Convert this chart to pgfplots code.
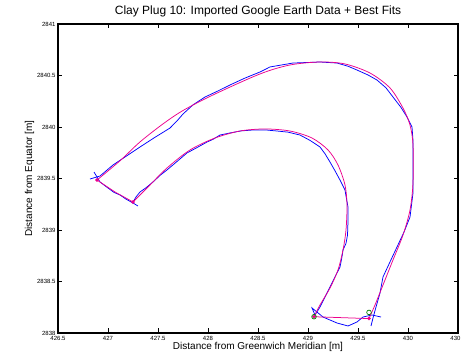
\documentclass[border=0pt]{standalone}
\usepackage{pgfplots}
\pgfplotsset{compat=1.18}
\usepackage{fontspec}
\setmainfont{Liberation Sans}
\begin{document}
\begin{tikzpicture}
\begin{axis}[
  name=ax,
  at={(0,0)}, anchor=south west,
  scale only axis,
  width=400pt, height=309pt,
  xmin=426.5, xmax=430.5, ymin=2838, ymax=2841,
  xtick={426.5,427,...,430.5},
  ytick={2838,2838.5,...,2841},
  /pgf/number format/assume math mode=true,
  /pgf/number format/1000 sep={},
  xticklabel style={font=\fontsize{6}{7}\selectfont, /pgf/number format/fixed, yshift=0.5pt},
  yticklabel style={font=\fontsize{6}{7}\selectfont, /pgf/number format/fixed, xshift=1pt},
  tick align=inside,
  tick style={black, line width=0.6pt},
  major tick length=4.5pt,
  axis line style={line width=1.3pt},
  title={Clay Plug 10: Imported Google Earth Data + Best Fits},
  title style={font=\fontsize{12}{14}\selectfont, yshift=-3pt},
  xlabel={Distance from Greenwich Meridian [m]},
  ylabel={Distance from Equator [m]},
  xlabel style={font=\fontsize{10}{12}\selectfont, yshift=5pt},
  ylabel style={font=\fontsize{10}{12}\selectfont, yshift=-4pt},
  clip=false,
]
% Blue data: outer boundary
\addplot[blue, line width=0.75pt, mark=none] coordinates {
(426.82,2839.495) (426.92,2839.524) (427.05,2839.631) (427.20,2839.728) (427.32,2839.806)
(427.47,2839.900) (427.62,2839.990) (427.70,2840.070) (427.75,2840.126) (427.85,2840.215) (427.97,2840.291) (428.10,2840.350) (428.22,2840.408)
(428.37,2840.475) (428.52,2840.534) (428.62,2840.583) (428.85,2840.621) (429.12,2840.631)
(429.29,2840.621) (429.40,2840.590) (429.49,2840.553) (429.60,2840.505) (429.69,2840.456) (429.78,2840.380) (429.85,2840.291)
(429.93,2840.190) (429.99,2840.097) (430.04,2840.0) (430.05,2839.870) (430.05,2839.777)
(430.05,2839.560) (430.05,2839.359) (430.02,2839.126) (429.96,2838.980) (429.89,2838.835) (429.82,2838.690) (429.75,2838.544)
(429.72,2838.388) (429.68,2838.252) (429.65,2838.146) (429.63,2838.068)
};
% Blue data: bottom and inner boundary
\addplot[blue, line width=0.75pt, mark=none] coordinates {
(429.73,2838.155) (429.64,2838.175) (429.55,2838.155) (429.49,2838.107)
(429.40,2838.068) (429.29,2838.097) (429.15,2838.155) (429.04,2838.243)
(429.07,2838.175) (429.12,2838.252) (429.17,2838.350) (429.22,2838.447) (429.27,2838.545) (429.32,2838.641)
(429.34,2838.740) (429.35,2838.806) (429.38,2838.870) (429.395,2838.950) (429.40,2839.080) (429.40,2839.223) (429.38,2839.330) (429.37,2839.388)
(429.32,2839.485) (429.27,2839.575) (429.22,2839.660) (429.17,2839.740) (429.12,2839.806) (429.02,2839.870) (428.92,2839.922)
(428.80,2839.950) (428.69,2839.961) (428.57,2839.972) (428.45,2839.971) (428.33,2839.962) (428.22,2839.942) (428.12,2839.922)
(428.05,2839.880) (427.99,2839.854) (427.89,2839.800) (427.79,2839.748) (427.69,2839.665) (427.59,2839.583) (427.52,2839.530) (427.45,2839.466)
(427.38,2839.410) (427.32,2839.369) (427.28,2839.320) (427.25,2839.272) (427.24,2839.262)
};
% Blue data: left connection
\addplot[blue, line width=0.75pt, mark=none] coordinates {
(427.30,2839.233) (427.25,2839.262) (427.18,2839.300) (427.12,2839.340) (427.06,2839.365) (427.00,2839.408)
(426.92,2839.466) (426.86,2839.563)
};
% Magenta fit: outer arc
\addplot[magenta, line width=0.75pt, mark=none, smooth, tension=0.5] coordinates {
(426.89,2839.485) (427.12,2839.672) (427.32,2839.855) (427.55,2840.030)
(427.75,2840.160) (428.05,2840.311) (428.52,2840.515) (428.82,2840.602)
(429.12,2840.631) (429.37,2840.612) (429.62,2840.524) (429.82,2840.379)
(429.95,2840.184) (430.02,2840.019) (430.05,2839.825) (430.05,2839.456)
(430.02,2839.194) (429.95,2838.951) (429.85,2838.709) (429.75,2838.466)
(429.67,2838.272) (429.61,2838.140)
};
% Magenta fit: bottom
\addplot[magenta, line width=0.75pt, mark=none] coordinates {
(429.61,2838.140) (429.06,2838.158)
};
% Magenta fit: inner arc
\addplot[magenta, line width=0.75pt, mark=none, smooth, tension=0.5] coordinates {
(429.06,2838.158)
(429.12,2838.272) (429.22,2838.437) (429.30,2838.612) (429.35,2838.806)
(429.38,2839.0) (429.39,2839.243) (429.37,2839.437) (429.30,2839.631)
(429.20,2839.777) (429.04,2839.893) (428.82,2839.961) (428.57,2839.981)
(428.32,2839.961) (428.07,2839.893) (427.82,2839.777) (427.59,2839.602)
(427.42,2839.437) (427.25,2839.272)
};
% Magenta fit: left end
\addplot[magenta, line width=0.75pt, mark=none] coordinates {
(427.25,2839.272) (427.07,2839.369) (426.89,2839.485)
};
% Magenta corner markers
\addplot[only marks, mark=*, mark size=1.6pt, magenta] coordinates {
(426.89,2839.485) (427.25,2839.272) (429.61,2838.140) (429.06,2838.158)
};
% Green circles
\addplot[only marks, mark=o, mark size=2.3pt, draw=green!50!black, line width=0.7pt] coordinates {
(429.06,2838.158) (429.61,2838.200)
};
\end{axis}
\pgfresetboundingbox
\path[use as bounding box] ([shift={(-58pt,-25pt)}]ax.south west) rectangle ([shift={(3pt,24pt)}]ax.north east);
\end{tikzpicture}
\end{document}
